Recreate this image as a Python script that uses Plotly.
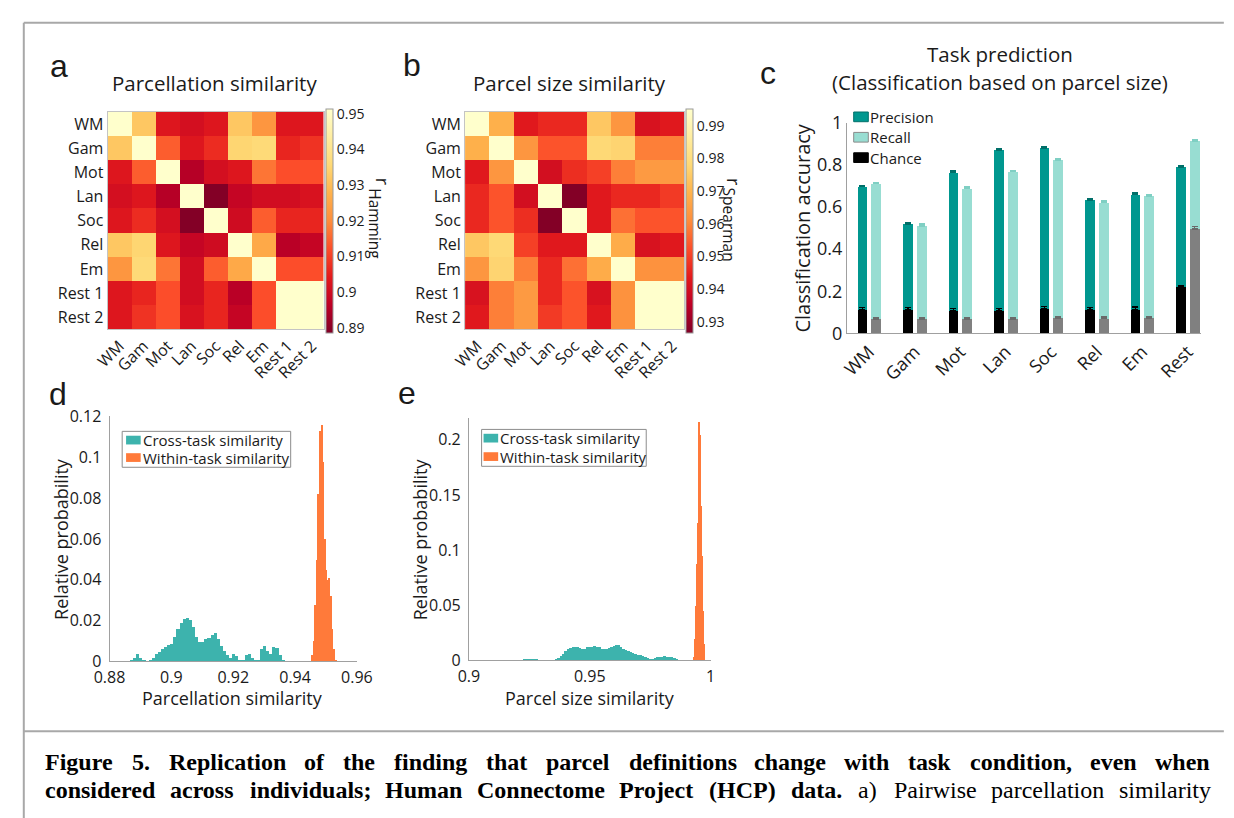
import plotly.graph_objects as go

W, H = 1234, 818
def px(x): return x / W
def py(y): return 1 - y / H

FONT = "Open Sans"
TXT = "#1a1a1a"
AX = "#a0a0a0"

# ---------------- data ----------------
tasks = ["WM", "Gam", "Mot", "Lan", "Soc", "Rel", "Em", "Rest 1", "Rest 2"]

parc_sim = [
    [1.000, 0.932, 0.903, 0.901, 0.903, 0.932, 0.922, 0.903, 0.903],
    [0.932, 1.000, 0.914, 0.903, 0.907, 0.935, 0.936, 0.906, 0.908],
    [0.903, 0.914, 1.000, 0.8955, 0.901, 0.903, 0.917, 0.912, 0.912],
    [0.901, 0.903, 0.8955, 1.000, 0.889, 0.898, 0.9005, 0.9005, 0.902],
    [0.903, 0.907, 0.901, 0.889, 1.000, 0.900, 0.914, 0.906, 0.906],
    [0.932, 0.935, 0.903, 0.898, 0.900, 1.000, 0.926, 0.896, 0.898],
    [0.922, 0.936, 0.917, 0.9005, 0.914, 0.926, 1.000, 0.912, 0.912],
    [0.903, 0.906, 0.912, 0.9005, 0.906, 0.896, 0.912, 1.000, 0.999],
    [0.903, 0.908, 0.912, 0.902, 0.906, 0.898, 0.912, 0.999, 1.000],
]

size_sim = [
    [1.000, 0.969, 0.943, 0.946, 0.946, 0.974, 0.963, 0.941, 0.943],
    [0.969, 1.000, 0.963, 0.953, 0.953, 0.978, 0.977, 0.959, 0.959],
    [0.943, 0.963, 1.000, 0.940, 0.947, 0.950, 0.959, 0.964, 0.964],
    [0.946, 0.953, 0.940, 1.000, 0.927, 0.943, 0.946, 0.946, 0.949],
    [0.946, 0.953, 0.947, 0.927, 1.000, 0.943, 0.957, 0.953, 0.953],
    [0.974, 0.978, 0.950, 0.943, 0.943, 1.000, 0.968, 0.941, 0.943],
    [0.963, 0.977, 0.959, 0.946, 0.957, 0.968, 1.000, 0.962, 0.962],
    [0.941, 0.959, 0.964, 0.946, 0.953, 0.941, 0.962, 1.000, 0.999],
    [0.943, 0.959, 0.964, 0.949, 0.953, 0.943, 0.962, 0.999, 1.000],
]
parc_ticks = [0.89, 0.90, 0.91, 0.92, 0.93, 0.94, 0.95]
parc_ticktext = ["0.89", "0.9", "0.91", "0.92", "0.93", "0.94", "0.95"]
size_ticks = [0.93, 0.94, 0.95, 0.96, 0.97, 0.98, 0.99]
size_ticktext = ["0.93", "0.94", "0.95", "0.96", "0.97", "0.98", "0.99"]

cls_tasks = ["WM", "Gam", "Mot", "Lan", "Soc", "Rel", "Em", "Rest"]
precision = [0.696, 0.520, 0.765, 0.871, 0.879, 0.633, 0.660, 0.790]
precision_err = [0.005, 0.005, 0.005, 0.005, 0.005, 0.005, 0.005, 0.004]
recall = [0.711, 0.510, 0.688, 0.768, 0.822, 0.622, 0.653, 0.914]
recall_err = [0.006, 0.008, 0.006, 0.005, 0.005, 0.006, 0.006, 0.004]
chance_precision = [0.110, 0.110, 0.107, 0.107, 0.115, 0.110, 0.112, 0.223]
chance_precision_err = [0.012, 0.013, 0.012, 0.012, 0.012, 0.013, 0.013, 0.004]
chance_recall = [0.069, 0.069, 0.068, 0.068, 0.072, 0.070, 0.072, 0.496]
chance_recall_err = [0.007, 0.007, 0.007, 0.007, 0.007, 0.008, 0.008, 0.012]
cls_yticks = [0, 0.2, 0.4, 0.6, 0.8, 1]
cls_yticktext = ["0", "0.2", "0.4", "0.6", "0.8", "1"]

# panel d histograms (bin centres, relative probability)
d_cross_x = [0.886, 0.887, 0.888, 0.889, 0.890, 0.891, 0.892, 0.893, 0.894, 0.895,
             0.896, 0.897, 0.898, 0.899, 0.900, 0.901, 0.902, 0.903, 0.904, 0.905,
             0.906, 0.907, 0.908, 0.909, 0.910, 0.911, 0.912, 0.913, 0.914, 0.915,
             0.916, 0.917, 0.918, 0.919, 0.920, 0.921, 0.922, 0.923, 0.924, 0.925,
             0.926, 0.927, 0.928, 0.929, 0.930, 0.931, 0.932, 0.933, 0.934, 0.935,
             0.936]
d_cross_p = [0.0, 0.0005, 0.002, 0.0035, 0.002, 0.0005, 0.0, 0.0005, 0.002, 0.0035,
             0.0045, 0.006, 0.007, 0.008, 0.0085, 0.012, 0.016, 0.019, 0.021, 0.0213,
             0.0205, 0.017, 0.012, 0.0095, 0.0098, 0.011, 0.0115, 0.013, 0.0138, 0.011,
             0.0075, 0.005, 0.003, 0.0018, 0.0038, 0.0025, 0.001, 0.001, 0.003, 0.0038,
             0.002, 0.0008, 0.001, 0.006, 0.0078, 0.005, 0.0035, 0.007, 0.0068, 0.003,
             0.0005]
d_within_x = [0.9455, 0.9460, 0.9465, 0.9470, 0.9475, 0.9480, 0.9485, 0.9490,
              0.9495, 0.9500, 0.9505, 0.9510, 0.9515, 0.9520, 0.9525, 0.9530]
d_within_p = [0.003, 0.010, 0.028, 0.050, 0.082, 0.113, 0.116, 0.098,
              0.060, 0.045, 0.040, 0.041, 0.032, 0.016, 0.006, 0.001]

# panel e histograms
e_cross_x = [0.922, 0.923, 0.924, 0.925, 0.926, 0.927, 0.928, 0.929, 0.930, 0.931,
             0.932, 0.933, 0.934, 0.935, 0.936, 0.937, 0.938, 0.939, 0.940, 0.941,
             0.942, 0.943, 0.944, 0.945, 0.946, 0.947, 0.948, 0.949, 0.950, 0.951,
             0.952, 0.953, 0.954, 0.955, 0.956, 0.957, 0.958, 0.959, 0.960, 0.961,
             0.962, 0.963, 0.964, 0.965, 0.966, 0.967, 0.968, 0.969, 0.970, 0.971,
             0.972, 0.973, 0.974, 0.975, 0.976, 0.977, 0.978, 0.979, 0.980, 0.981,
             0.982, 0.983, 0.984, 0.985, 0.986, 0.987]
e_cross_p = [0.0003, 0.0012, 0.0015, 0.0016, 0.0015, 0.0012, 0.001, 0.0006, 0.0003, 0.0002,
             0.0001, 0.0001, 0.0002, 0.0005, 0.001, 0.0025, 0.0045, 0.0065, 0.0085, 0.0105,
             0.0118, 0.0122, 0.0125, 0.0127, 0.0115, 0.0105, 0.011, 0.012, 0.0127, 0.0128,
             0.0133, 0.0128, 0.012, 0.011, 0.0104, 0.011, 0.0118, 0.0122, 0.013, 0.0138,
             0.014, 0.0125, 0.0108, 0.0095, 0.0085, 0.0075, 0.0066, 0.006, 0.0053, 0.0047,
             0.0042, 0.0033, 0.0022, 0.0015, 0.0016, 0.0024, 0.003, 0.003, 0.0034, 0.0038,
             0.0036, 0.0034, 0.003, 0.002, 0.0008, 0.0002]
e_within_x = [0.9930, 0.9934, 0.9938, 0.9942, 0.9946, 0.9950,
              0.9954, 0.9958, 0.9962, 0.9966, 0.9970, 0.9974]
e_within_p = [0.003, 0.020, 0.050, 0.088, 0.125, 0.170,
              0.216, 0.205, 0.140, 0.095, 0.045, 0.015]

caption_line1 = [("Figure", True), ("5.", True), ("Replication", True), ("of", True),
                 ("the", True), ("finding", True), ("that", True), ("parcel", True),
                 ("definitions", True), ("change", True), ("with", True), ("task", True),
                 ("condition,", True), ("even", True), ("when", True)]
caption_line2 = [("considered", True), ("across", True), ("individuals;", True),
                 ("Human", True), ("Connectome", True), ("Project", True), ("(HCP)", True),
                 ("data.", True), ("a)", False), ("Pairwise", False),
                 ("parcellation", False), ("similarity", False)]

# ---------------- colours ----------------
ylorrd = [[0.0, "#800026"], [0.125, "#bd0026"], [0.25, "#e31a1c"], [0.375, "#fc4e2a"],
          [0.5, "#fd8d3c"], [0.625, "#feb24c"], [0.75, "#fed976"], [0.875, "#ffeda0"],
          [1.0, "#ffffcc"]]
C_PREC = "#00978f"
C_REC = "#98ddd2"
C_HIST_X = "#3db3ad"
C_HIST_W = "#ff7a3a"

fig = go.Figure()

# ---------------- heatmaps ----------------
def heat(z, zmin, zmax, xa, ya, cbx, tv, tt):
    return go.Heatmap(
        z=z, x=tasks, y=tasks, xaxis=xa, yaxis=ya, colorscale=ylorrd,
        zmin=zmin, zmax=zmax, showscale=True, hoverinfo="skip",
        colorbar=dict(x=cbx, xanchor="left", xpad=0, ypad=0,
                      y=py(214), yanchor="middle", len=224, lenmode="pixels",
                      thickness=7, thicknessmode="pixels",
                      outlinewidth=1, outlinecolor="#9a9a9a",
                      tickvals=tv, ticktext=tt, ticks="",
                      tickfont=dict(family=FONT, size=14, color=TXT)))

fig.add_trace(heat(parc_sim, 0.8886, 0.9514, "x", "y", px(318), parc_ticks, parc_ticktext))
fig.add_trace(heat(size_sim, 0.9266, 0.9952, "x2", "y2", px(688), size_ticks, size_ticktext))

# ---------------- panel c bars ----------------
idx = list(range(len(cls_tasks)))
xp = [i - 0.15 for i in idx]
xr = [i + 0.15 for i in idx]
bw = 0.215
fig.add_trace(go.Bar(x=xp, y=precision, width=bw, marker=dict(color=C_PREC, line=dict(width=0)),
                     error_y=dict(type="data", array=precision_err, symmetric=False, arrayminus=[0]*8,
                                  color="#006f69", thickness=1.5, width=3),
                     xaxis="x3", yaxis="y3", showlegend=False, hoverinfo="skip"))
fig.add_trace(go.Bar(x=xr, y=recall, width=bw, marker=dict(color=C_REC, line=dict(width=0)),
                     error_y=dict(type="data", array=recall_err, symmetric=False, arrayminus=[0]*8,
                                  color="#7fcfc3", thickness=1.5, width=3),
                     xaxis="x3", yaxis="y3", showlegend=False, hoverinfo="skip"))
fig.add_trace(go.Bar(x=xp, y=chance_precision, width=bw, marker=dict(color="#000000", line=dict(width=0)),
                     error_y=dict(type="data", array=chance_precision_err, symmetric=False,
                                  arrayminus=[0]*8, color="#000000", thickness=1.5, width=3),
                     xaxis="x3", yaxis="y3", showlegend=False, hoverinfo="skip"))
fig.add_trace(go.Bar(x=xr, y=chance_recall, width=bw, marker=dict(color="#808080", line=dict(width=0)),
                     error_y=dict(type="data", array=chance_recall_err, symmetric=False,
                                  arrayminus=[0]*8, color="#6a6a6a", thickness=1.5, width=3),
                     xaxis="x3", yaxis="y3", showlegend=False, hoverinfo="skip"))

# ---------------- histograms ----------------
fig.add_trace(go.Bar(x=d_cross_x, y=d_cross_p, width=0.001, marker=dict(color=C_HIST_X, line=dict(width=0)),
                     xaxis="x4", yaxis="y4", showlegend=False, hoverinfo="skip"))
fig.add_trace(go.Bar(x=d_within_x, y=d_within_p, width=0.0005, marker=dict(color=C_HIST_W, line=dict(width=0)),
                     xaxis="x4", yaxis="y4", showlegend=False, hoverinfo="skip"))
fig.add_trace(go.Bar(x=e_cross_x, y=e_cross_p, width=0.001, marker=dict(color=C_HIST_X, line=dict(width=0)),
                     xaxis="x5", yaxis="y5", showlegend=False, hoverinfo="skip"))
fig.add_trace(go.Bar(x=e_within_x, y=e_within_p, width=0.0004, marker=dict(color=C_HIST_W, line=dict(width=0)),
                     xaxis="x5", yaxis="y5", showlegend=False, hoverinfo="skip"))

tickf = dict(family=FONT, size=16, color=TXT)
axf = dict(family=FONT, size=16, color=TXT)
common = dict(showgrid=False, zeroline=False, ticks="", fixedrange=True)
hmline = dict(showline=True, mirror=True, linecolor="#c4c4c4", linewidth=1)

fig.update_layout(
    width=W, height=H, margin=dict(l=0, r=0, t=0, b=0),
    paper_bgcolor="white", plot_bgcolor="rgba(0,0,0,0)",
    barmode="overlay", bargap=0, showlegend=False,
    font=dict(family=FONT, color=TXT),
    xaxis=dict(domain=[px(94), px(316)], anchor="y", tickangle=-45, tickfont=tickf,
               **hmline, **common),
    yaxis=dict(domain=[py(326), py(102)], anchor="x", autorange="reversed", tickfont=tickf,
               **hmline, **common),
    xaxis2=dict(domain=[px(461), px(686)], anchor="y2", tickangle=-45, tickfont=tickf,
                **hmline, **common),
    yaxis2=dict(domain=[py(326), py(102)], anchor="x2", autorange="reversed", tickfont=tickf,
                **hmline, **common),
    xaxis3=dict(domain=[px(853), px(1217)], anchor="y3", range=[-0.49, 7.3],
                tickvals=idx, ticktext=cls_tasks, tickangle=-45, tickfont=dict(family=FONT, size=18, color=TXT),
                showline=True, linecolor=AX, linewidth=1, **common),
    yaxis3=dict(domain=[py(330), py(113)], anchor="x3", range=[0, 1],
                tickvals=cls_yticks, ticktext=cls_yticktext, tickfont=dict(family=FONT, size=18, color=TXT),
                showline=True, linecolor=AX, linewidth=1, **common),
    xaxis4=dict(domain=[px(96), px(350)], anchor="y4", range=[0.88, 0.96],
                tickvals=[0.88, 0.90, 0.92, 0.94, 0.96], ticktext=["0.88", "0.9", "0.92", "0.94", "0.96"],
                tickfont=axf, ticklabelstandoff=1, showline=True, linecolor=AX, linewidth=1, **common),
    yaxis4=dict(domain=[py(668), py(415)], anchor="x4", range=[0, 0.1205],
                tickvals=[0, 0.02, 0.04, 0.06, 0.08, 0.1, 0.12],
                ticktext=["0", "0.02", "0.04", "0.06", "0.08", "0.1", "0.12"],
                tickfont=axf, ticklabelstandoff=4, showline=True, linecolor=AX, linewidth=1, **common),
    xaxis5=dict(domain=[px(465), px(713)], anchor="y5", range=[0.9, 1.0],
                tickvals=[0.9, 0.95, 1.0], ticktext=["0.9", "0.95", "1"],
                tickfont=axf, ticklabelstandoff=1, showline=True, linecolor=AX, linewidth=1, **common),
    yaxis5=dict(domain=[py(667), py(417)], anchor="x5", range=[0, 0.22],
                tickvals=[0, 0.05, 0.1, 0.15, 0.2], ticktext=["0", "0.05", "0.1", "0.15", "0.2"],
                tickfont=axf, ticklabelstandoff=4, showline=True, linecolor=AX, linewidth=1, **common),
)

ann = []
shapes = []
def text(x, y, s, size, family=FONT, xanchor="center", yanchor="middle", angle=0, color=TXT):
    ann.append(dict(xref="paper", yref="paper", x=px(x), y=py(y), text=s, showarrow=False,
                    xanchor=xanchor, yanchor=yanchor, textangle=angle,
                    font=dict(family=family, size=size, color=color)))

# panel letters
LET = "Liberation Sans"
text(33, 55, "a", 32, LET, xanchor="left")
text(395, 54, "b", 32, LET, xanchor="left")
text(762, 62, "c", 32, LET, xanchor="left")
text(32, 393, "d", 32, LET, xanchor="left")
text(390, 391, "e", 32, LET, xanchor="left")

# titles
text(204, 72, "Parcellation similarity", 20.5)
text(568, 72, "Parcel size similarity", 20.5)
text(1010, 42, "Task prediction", 20.5)
text(1010, 71, "(Classification based on parcel size)", 20.5)

# colorbar titles  (r with a rotated subscript)
text(377, 174, "r", 18, angle=90)
text(369, 217, "Hamming", 15.5, angle=90)
text(737, 174, "r", 18, angle=90)
text(732, 218, "Spearman", 15.5, angle=90)

# axis titles
text(807, 222, "Classification accuracy", 20, angle=-90)
text(46, 542, "Relative probability", 18, angle=-90)
text(222, 706, "Parcellation similarity", 18)
text(415, 542, "Relative probability", 18, angle=-90)
text(589, 706, "Parcel size similarity", 18)

# panel c legend
for yy, col, lc, lab in [(107, C_PREC, "#00706a", "Precision"), (128, C_REC, "#8a8a8a", "Recall"),
                          (149, "#000000", "#000000", "Chance")]:
    shapes.append(dict(type="rect", xref="paper", yref="paper", x0=px(860), x1=px(875),
                       y0=py(yy + 5), y1=py(yy - 5), fillcolor=col, line=dict(color=lc, width=1)))
    text(875, yy, lab, 15, xanchor="left")

# panel d/e legends
def hist_legend(x0, x1, y0, y1, sx, rows):
    shapes.append(dict(type="rect", xref="paper", yref="paper", x0=px(x0), x1=px(x1),
                       y0=py(y1), y1=py(y0), fillcolor="white", line=dict(color="#8c8c8c", width=1)))
    for yy, col, lab in rows:
        shapes.append(dict(type="rect", xref="paper", yref="paper", x0=px(sx), x1=px(sx + 15),
                           y0=py(yy + 4.5), y1=py(yy - 4.5), fillcolor=col, line=dict(width=0)))
        text(sx + 15, yy, lab, 15, xanchor="left")

hist_legend(109, 282, 431, 468, 113, [(440, C_HIST_X, "Cross-task similarity"),
                                      (458, C_HIST_W, "Within-task similarity")])
hist_legend(478, 647, 429, 467, 480, [(438, C_HIST_X, "Cross-task similarity"),
                                      (457, C_HIST_W, "Within-task similarity")])

# frame
for (x0, y0, x1, y1) in [(8, 10, 1240, 10), (8, 10, 8, 830), (8, 740, 1240, 740)]:
    shapes.append(dict(type="line", xref="paper", yref="paper", x0=px(x0), y0=py(y0),
                       x1=px(x1), y1=py(y1), line=dict(color="#a8a8a8", width=2)))

# caption (justified word by word, Times metrics)
BOLD = {" ": 250, "(": 333, ")": 333, ",": 250, ".": 250, ";": 333, "5": 500,
        "C": 722, "F": 611, "H": 778, "P": 611, "R": 722,
        "a": 500, "c": 444, "d": 556, "e": 444, "f": 333, "g": 500, "h": 556, "i": 278,
        "j": 333, "k": 556, "l": 278, "m": 833, "n": 556, "o": 500, "p": 556, "r": 444,
        "s": 389, "t": 333, "u": 556, "v": 500, "w": 722, "y": 500}
REG = {" ": 250, ")": 333, "P": 556, "a": 444, "c": 444, "e": 444, "i": 278, "l": 278,
       "m": 778, "n": 500, "o": 500, "p": 500, "r": 333, "s": 389, "t": 278, "w": 722, "y": 500}
CAP_FS = 24
CAP_X0, CAP_X1 = 29, 1223

def justify(words, ymid):
    widths = [sum((BOLD if b else REG).get(ch, 500) for ch in w) * CAP_FS / 1000 for w, b in words]
    gap = (CAP_X1 - CAP_X0 - sum(widths)) / (len(words) - 1)
    x = CAP_X0
    for (w, b), wd in zip(words, widths):
        ann.append(dict(xref="paper", yref="paper", x=px(x - 1), y=py(ymid),
                        text=("<b>%s</b>" % w) if b else w, showarrow=False,
                        xanchor="left", yanchor="middle",
                        font=dict(family="Liberation Serif", size=CAP_FS, color="#000000")))
        x += wd + gap

justify(caption_line1, 772)
justify(caption_line2, 801)

fig.update_layout(annotations=ann, shapes=shapes)
fig.write_html("out.html",
               post_script="document.body.style.margin='0px';document.body.style.overflow='hidden';")
